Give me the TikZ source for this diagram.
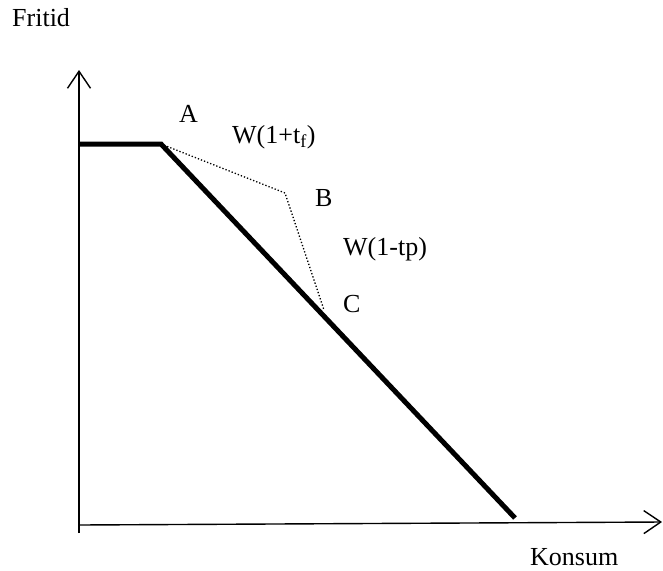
\documentclass[tikz,border=0pt]{standalone}
\usepackage{fontspec}
\setmainfont{Liberation Serif}
\usetikzlibrary{arrows.meta}
\begin{document}
\begin{tikzpicture}[x=1pt,y=-1pt,
  axis/.style={line width=1.4pt,-{Straight Barb[length=17pt,width=23pt,line width=1.4pt]}},
  budget/.style={line width=5pt,line join=miter},
  kinked/.style={line width=1.3pt,dotted},
  lbl/.style={anchor=base west,inner sep=0pt,font=\fontsize{26}{30}\selectfont}]
\useasboundingbox (0,0) rectangle (663,570);
\coordinate (bot) at (79,533);
\coordinate (ytip) at (79,70);
\coordinate (xorig) at (79,525);
\coordinate (xtip) at (662,522);
\coordinate (left) at (79,144);
\coordinate (A) at (161,144);
\coordinate (B) at (285,193);
\coordinate (C) at (324,310);
\coordinate (end) at (515,518);
\draw[axis] (bot) -- (ytip);
\draw[axis] (xorig) -- (xtip);
\draw[budget] (left) -- (A) -- (end);
\draw[kinked] (A) -- (B) -- (C);
\node[lbl] (fritid) at (12,27) {Fritid};
\node[lbl] (la) at (179,122) {A};
\node[lbl] (w1) at (232,143) {W(1+t\textsubscript{f})};
\node[lbl] (lb) at (315,206) {B};
\node[lbl] (w2) at (343,255) {W(1-tp)};
\node[lbl] (lc) at (343,312) {C};
\node[lbl] (konsum) at (530,565) {Konsum};
\end{tikzpicture}
\end{document}
